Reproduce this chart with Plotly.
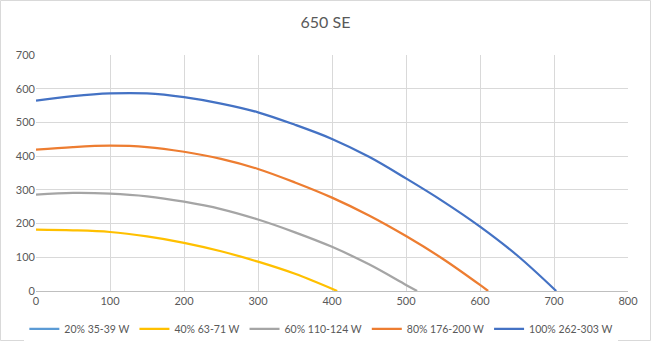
import plotly.graph_objects as go

x_20 = [None]
y_20 = [None]
x_40 = [0, 50, 100, 150, 200, 250, 300, 350, 407]
y_40 = [182, 180, 175, 162, 143, 118, 87, 51, 0]
x_60 = [0, 50, 100, 150, 200, 250, 300, 350, 400, 450, 500, 515]
y_60 = [286, 291, 289, 281, 265, 243, 212, 174, 131, 79, 18, 0]
x_80 = [0, 50, 100, 150, 200, 250, 300, 350, 400, 450, 500, 550, 600, 611]
y_80 = [419, 427, 431, 427, 413, 392, 362, 322, 277, 224, 163, 95, 18, 0]
x_100 = [0, 50, 100, 150, 200, 250, 300, 350, 400, 450, 500, 550, 600, 650, 703]
y_100 = [565, 578, 586, 586, 575, 556, 530, 493, 451, 398, 334, 266, 191, 106, 0]

names = ["20% 35-39 W", "40% 63-71 W", "60% 110-124 W", "80% 176-200 W", "100% 262-303 W"]
colors = ["#5B9BD5", "#FFC000", "#A5A5A5", "#ED7D31", "#4472C4"]
xs = [x_20, x_40, x_60, x_80, x_100]
ys = [y_20, y_40, y_60, y_80, y_100]

fig = go.Figure()
for n, c, xv, yv in zip(names, colors, xs, ys):
    fig.add_trace(go.Scatter(x=xv, y=yv, name=n, mode="lines", showlegend=True,
                             line=dict(color=c, width=2.25, shape="spline", smoothing=1.0)))

axis_font = dict(family="Lato, Liberation Sans, sans-serif", size=11, color="#595959")
fig.update_layout(
    width=651, height=341,
    margin=dict(l=36, r=23, t=55, b=50, autoexpand=False),
    paper_bgcolor="white", plot_bgcolor="white",
    title=dict(text="650 SE", x=0.5, xanchor="center", y=0.935, yanchor="middle",
               font=dict(family="Lato, Liberation Sans, sans-serif", size=16, color="#595959")),
    font=axis_font,
    showlegend=True,
    legend=dict(orientation="h", x=0.482, xanchor="center", y=-0.161, yanchor="middle",
                font=dict(family="Lato, Liberation Sans, sans-serif", size=10.5, color="#595959"),
                itemwidth=30, tracegroupgap=0),
    xaxis=dict(range=[0, 800], dtick=100, showgrid=True, gridcolor="#D9D9D9", gridwidth=1,
               zeroline=False, showline=True, linecolor="#BFBFBF", linewidth=1,
               ticks="", tickfont=axis_font, fixedrange=True),
    yaxis=dict(range=[0, 700], dtick=100, showgrid=True, gridcolor="#D9D9D9", gridwidth=1,
               zeroline=False, showline=False, ticks="", tickfont=axis_font, fixedrange=True),
    shapes=[dict(type="rect", xref="paper", yref="paper",
                 x0=-35.5/592, x1=(650.5-36)/592, y0=(291-340.5)/236, y1=(291-0.5)/236,
                 line=dict(color="#D9D9D9", width=1), fillcolor="rgba(0,0,0,0)", layer="below")],
)
fig.write_html("out.html")
